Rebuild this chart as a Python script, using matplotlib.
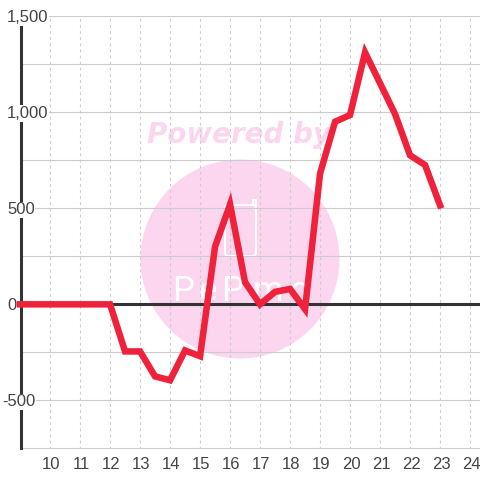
import matplotlib
matplotlib.use("Agg")
import matplotlib.pyplot as plt
from matplotlib.patches import Ellipse, FancyBboxPatch
from matplotlib.lines import Line2D
from matplotlib.transforms import ScaledTranslation

hours = [9, 10, 11, 12, 12.5, 13, 13.5, 14, 14.5, 15, 15.5, 16, 16.5, 17, 17.5,
         18, 18.5, 19, 19.5, 20, 20.5, 21, 21.5, 22, 22.5, 23]
values = [0, 0, 0, 0, -245, -245, -375, -395, -240, -270, 300, 520, 115, 0, 65,
          80, -25, 680, 950, 985, 1310, 1150, 990, 775, 725, 515]
x_ticks = list(range(10, 25))
y_labelled = [1500, 1000, 500, 0, -500]
y_labels = ["1,500", "1,000", "500", "0", "-500"]
y_grid = [-750, -500, -250, 0, 250, 500, 750, 1000, 1250, 1500]
logo_letters = ["P", "e", "P", "m", "o"]
logo_centres = [183, 208, 232, 268, 299]

plt.rcParams["font.family"] = ["Liberation Sans", "DejaVu Sans"]

W = 480
fig = plt.figure(figsize=(4.8, 4.8), dpi=100)
fig.patch.set_facecolor("white")
ax = fig.add_axes([20.5 / W, 1 - 448.5 / W, (W - 20.5) / W, (448.5 - 16) / W])
ax.patch.set_visible(False)
ax.set_xlim(9.015, 9.015 + (W - 20.5) / 30)
ax.set_ylim(-750, 1500)

# watermark
pink = "#fbd6ee"
fig.add_artist(Ellipse((240 / W, 1 - 259 / W), 199 / W, 199 / W, transform=fig.transFigure,
                       fc=pink, ec="none", zorder=-2))
fig.text(239 / W, 1 - 135 / W, "Powered by", color=pink, fontsize=20, family="DejaVu Sans",
         weight="bold", style="italic", ha="center", va="center", zorder=-2)
fig.add_artist(FancyBboxPatch((225 / W, 1 - 256 / W), 31 / W, 51 / W, boxstyle="round,pad=0,rounding_size=0.006",
                              transform=fig.transFigure, fc="none", ec="white", lw=1.5, zorder=-1))
fig.add_artist(Line2D([253 / W, 253 / W, 256 / W, 256 / W], [1 - 205 / W, 1 - 200 / W, 1 - 200 / W, 1 - 205 / W],
                      transform=fig.transFigure, color="white", lw=1.5, zorder=-1))
for letter, cx in zip(logo_letters, logo_centres):
    fig.text(cx / W, 1 - 301 / W, letter, color="white", fontsize=25, family="Roboto",
             ha="center", va="baseline", zorder=-1)

ax.set_xticks(x_ticks)
ax.set_yticks(y_grid)
ax.tick_params(length=0, labelleft=False, labelsize=12, labelcolor="#444444", pad=6)
shift = ScaledTranslation(1 / 100, 0, fig.dpi_scale_trans)
for lab in ax.get_xticklabels():
    lab.set_transform(lab.get_transform() + shift)
ax.set_axisbelow(True)
ax.grid(axis="y", color="#cccccc", lw=0.8, ls="-")
ax.grid(axis="x", color="#cccccc", lw=0.8, ls=(0, (2.5, 3)))
for side in ["top", "right", "bottom"]:
    ax.spines[side].set_visible(False)
ax.spines["left"].set_color("#333333")
ax.spines["left"].set_linewidth(2.2)
ax.axhline(0, color="#333333", lw=2.2, zorder=2)

ax.plot(hours, values, color="#f0213a", lw=4.7, solid_joinstyle="miter", solid_capstyle="projecting",
        zorder=3, clip_on=False)

for v, s in zip(y_labelled, y_labels):
    left = 2 if s.startswith("-") else 7
    ax.annotate(s, (left / W, v), xycoords=("figure fraction", "data"), xytext=(0, -1.1),
                textcoords="offset points", ha="left", va="center", fontsize=12, color="#444444",
                bbox=dict(fc="white", ec="none", pad=0.5), zorder=4, annotation_clip=False)

fig.savefig("out.png", dpi=100)
